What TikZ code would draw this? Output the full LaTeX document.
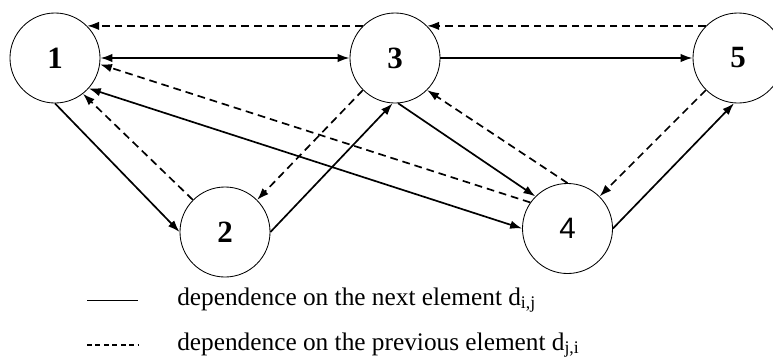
\documentclass[tikz,border=0pt]{standalone}
\usepackage{fontspec}
\setmainfont{Liberation Serif}
\newfontfamily\digitsans{Liberation Sans}
\usetikzlibrary{arrows.meta}
\usetikzlibrary{positioning}
\tikzset{
    vertex/.style={draw,circle,line width=0.6pt,inner sep=0pt,minimum size=2.25cm,
    font=\fontsize{22}{24}\selectfont\bfseries
    },
    edge/.style = {->,> = {Latex[length=8.5pt,width=6pt]},line width=1.2pt},
    dedge/.style = {edge,dash pattern=on 5.5pt off 3.5pt},
    legtext/.style = {anchor=west,inner sep=0pt,font=\fontsize{18}{20}\selectfont}
}
\begin{document}
\begin{tikzpicture}[x=0.025cm,y=-0.025cm]
\useasboundingbox (0,0) rectangle (773,356);
\node[vertex] (1) at (55,58) {1};
\node[vertex] (2) at (225,232) {2};
\node[vertex] (3) at (395,58) {3};
\node[vertex,font=\fontsize{21}{24}\digitsans] (4) at (567.5,228.5) {4};
\node[vertex] (5) at (738,58) {5};

\draw[edge,<->]  (1) --  (3);
\draw[edge]  (3) --  (5);
\draw[edge]  (1.south) --  (2.west);
\draw[edge]  (2.east) --  (3.-93);
\draw[edge]  (3.-86) --  (4.north west);
\draw[edge,<->]  (1.-42) --  (4.west);
\draw[edge]  (4.east) --  (5.-95);

\draw[dedge]  (3.north west) --  (1.north east);
\draw[dedge]  (5.north west) --  (3.north east);
\draw[dedge]  (2.north west) --  (1.-52);
\draw[dedge]  (3.south west) --  (2.north east);
\draw[dedge]  (4.145) --  (1.-8);
\draw[dedge]  (4.north) --  (3.south east);
\draw[dedge]  (5.south west) --  (4.north east);

\coordinate (s1) at (87,300);
\coordinate (s2) at (138,300);
\coordinate (d1) at (87,345);
\coordinate (d2) at (138,345);
\draw[line width=0.7pt] (s1) -- (s2);
\draw[line width=1.3pt,dash pattern=on 3.5pt off 2.5pt] (d1) -- (d2);
\node[legtext] (next) at (177,300) {dependence on the next element d\textsubscript{i,j}};
\node[legtext] (prev) at (177,345) {dependence on the previous element d\textsubscript{j,i}};
\end{tikzpicture}
\end{document}
